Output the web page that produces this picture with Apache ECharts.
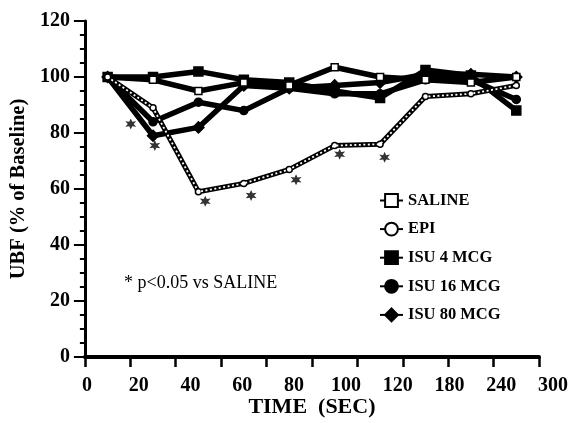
<!DOCTYPE html>
<html><head><meta charset="utf-8">
<script src="https://cdn.jsdelivr.net/npm/echarts@6/dist/echarts.min.js"></script>
<style>html,body{margin:0;padding:0;background:#fff}#c{width:572px;height:423px}</style>
</head><body><div id="c"></div>
<script>
// Time points (tick labels of the x axis)
const categories = ['0', '20', '40', '60', '80', '100', '120', '180', '240', '300'];
// UBF, % of baseline
const saline = [100, 99, 95, 98, 97, 103.5, 100, 99, 98, 100];
const epi    = [100, 89, 59, 62, 67, 75.5, 76, 93, 94, 97];
const isu4   = [100, 100, 102, 99, 98, 95, 92.5, 102.5, 100.5, 88];
const isu16  = [100, 84, 91, 88, 96, 94, 94, 99, 99, 92];
const isu80  = [100, 79, 82, 97, 96, 97, 98, 101, 101, 100];
// significance marks (* p<0.05), [position along time axis in bands, value]
const asterisks = [[1.01, 83.2], [1.54, 75.5], [2.65, 55.6], [3.66, 57.7], [4.65, 63.3], [5.61, 72.4], [6.6, 71.3]];
const yMin = 0, yMax = 120, yStep = 20;

const SERIF = '"Liberation Serif", "DejaVu Serif", serif';
const chart = echarts.init(document.getElementById('c'), null, {renderer: 'canvas'});
const asteriskPath = 'path://M0 -10 L2.4 -4 L8.66 -5 L4.6 0 L8.66 5 L2.4 4 L0 10 L-2.4 4 L-8.66 5 L-4.6 0 L-8.66 -5 L-2.4 -4 Z';

function lineSeries(name, data, symbol, size, fill, extra) {
  return Object.assign({
    name: name, type: 'line', data: data,
    xAxisIndex: 0, yAxisIndex: 0,
    symbol: symbol, symbolSize: size,
    itemStyle: {color: fill, borderColor: '#000', borderWidth: 1.5},
    lineStyle: {color: '#000', width: 5.5},
    emphasis: {disabled: true},
    animation: false
  }, extra || {});
}

const option = {
  backgroundColor: '#fff',
  animation: false,
  grid: [
    {left: 81, right: 33, top: 21, bottom: 58.7, containLabel: false},
    {left: 87, right: 19, top: 21, bottom: 58.7, containLabel: false}
  ],
  xAxis: [
    {
      type: 'category', data: categories, boundaryGap: true, gridIndex: 0,
      name: 'TIME  (SEC)', nameLocation: 'middle', nameGap: 39,
      nameTextStyle: {fontFamily: SERIF, fontWeight: 'bold', fontSize: 22, color: '#000'},
      axisLine: {lineStyle: {color: '#000', width: 4}},
      axisTick: {show: true, length: 10, lineStyle: {color: '#000', width: 2.5}},
      axisLabel: {show: false},
      splitLine: {show: false}
    },
    {
      type: 'value', min: 0, max: 10, gridIndex: 0, show: false
    },
    {
      type: 'category', data: categories, boundaryGap: false, gridIndex: 1,
      axisLine: {show: false}, axisTick: {show: false}, splitLine: {show: false},
      axisLabel: {show: true, interval: 0, margin: 12, fontFamily: SERIF, fontWeight: 'bold', fontSize: 20, color: '#000'}
    }
  ],
  yAxis: [
    {
      type: 'value', min: yMin, max: yMax, interval: yStep, gridIndex: 0,
      name: 'UBF (% of Baseline)', nameLocation: 'middle', nameGap: 47, nameRotate: 90,
      nameTextStyle: {fontFamily: SERIF, fontWeight: 'bold', fontSize: 20.5, color: '#000'},
      axisLine: {show: true, lineStyle: {color: '#000', width: 3}},
      axisTick: {show: true, length: 11, lineStyle: {color: '#000', width: 2}},
      minorTick: {show: true, splitNumber: 4, length: 5, lineStyle: {color: '#000', width: 2}},
      axisLabel: {margin: 15, fontFamily: SERIF, fontWeight: 'bold', fontSize: 20, color: '#000'},
      splitLine: {show: false}
    },
    {type: 'value', min: yMin, max: yMax, gridIndex: 1, show: false}
  ],
  legend: {
    orient: 'vertical', left: 374, top: 187,
    itemWidth: 23, itemHeight: 16, itemGap: 11.6,
    data: ['SALINE', 'EPI', 'ISU 4 MCG', 'ISU 16 MCG', 'ISU 80 MCG'],
    textStyle: {fontFamily: SERIF, fontWeight: 'bold', fontSize: 16.5, lineHeight: 16, color: '#000'},
    selectedMode: false
  },
  graphic: [
    {type: 'text', left: 124, top: 274,
     style: {text: '* p<0.05 vs SALINE', font: '18px "Liberation Serif"', fill: '#000'}}
  ],
  series: [
    lineSeries('ISU 80 MCG', isu80, 'diamond', 11, '#000'),
    lineSeries('ISU 16 MCG', isu16, 'circle', 8, '#000'),
    lineSeries('ISU 4 MCG', isu4, 'rect', 9, '#000'),
    lineSeries('SALINE', saline, 'rect', 7, '#fff', {z: 3}),
    lineSeries('EPI', epi, 'circle', 6, '#fff', {lineStyle: {color: '#000', width: 5}, z: 4}),
    {
      name: 'EPI dots', type: 'line', data: epi, xAxisIndex: 0, yAxisIndex: 0,
      symbol: 'none', lineStyle: {color: '#fff', width: 1.8, type: [2, 2.5]}, z: 5,
      emphasis: {disabled: true}, silent: true, animation: false
    },
    {
      name: 'sig', type: 'scatter', data: asterisks, xAxisIndex: 1, yAxisIndex: 0,
      symbol: asteriskPath, symbolSize: 11, itemStyle: {color: '#000'}, z: 6,
      emphasis: {disabled: true}, silent: true, animation: false
    }
  ]
};
chart.setOption(option);
</script></body></html>
